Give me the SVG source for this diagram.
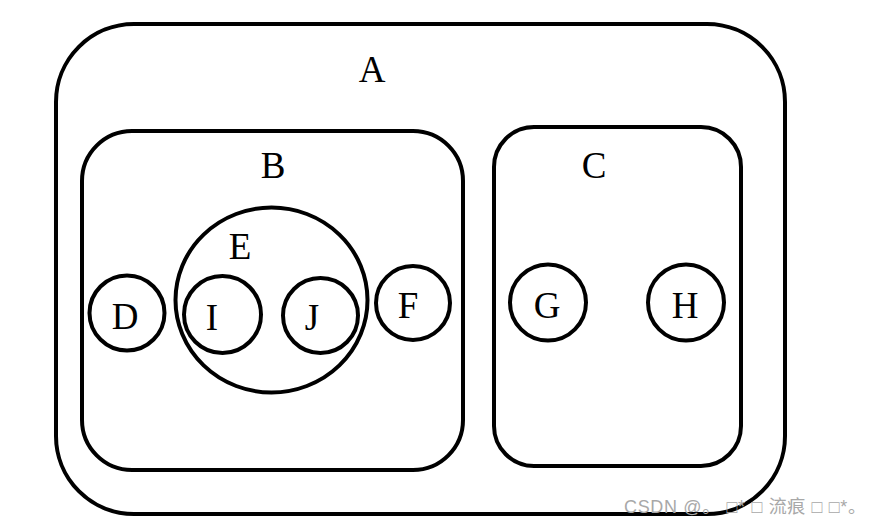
<svg xmlns="http://www.w3.org/2000/svg" width="874" height="526" viewBox="0 0 874 526">
<style>
.s{fill:none;stroke:#000;stroke-width:4}
.t{font-family:"Liberation Serif","DejaVu Serif",serif;font-size:37px;fill:#000;text-anchor:middle}
.w{font-family:"Liberation Sans","Noto Sans CJK SC",sans-serif;font-size:18px;fill:#a8a8a8}
</style>
<rect width="874" height="526" fill="#fff"/>
<g id="A"><rect class="s" x="56" y="24" width="729" height="490" rx="78" ry="78"/><text class="t" x="372" y="82">A</text></g>
<g id="B"><rect class="s" x="82" y="131" width="381" height="339" rx="50" ry="50"/><text class="t" x="273" y="178">B</text></g>
<g id="C"><rect class="s" x="494" y="127" width="247" height="339" rx="40" ry="40"/><text class="t" x="594" y="178">C</text></g>
<g id="E"><ellipse class="s" cx="271.5" cy="300" rx="96" ry="92.5"/><text class="t" x="240" y="259">E</text></g>
<g id="D"><circle class="s" cx="127" cy="313" r="37.5"/><text class="t" x="125" y="329">D</text></g>
<g id="I"><circle class="s" cx="222.5" cy="314.5" r="38.5"/><text class="t" x="212" y="330">I</text></g>
<g id="J"><circle class="s" cx="320.5" cy="315.5" r="37.5"/><text class="t" x="312" y="330">J</text></g>
<g id="F"><circle class="s" cx="413" cy="303" r="37"/><text class="t" x="408" y="318">F</text></g>
<g id="G"><circle class="s" cx="548" cy="302.5" r="38"/><text class="t" x="547" y="318">G</text></g>
<g id="H"><circle class="s" cx="686" cy="302.5" r="38"/><text class="t" x="685" y="318">H</text></g>
<g id="connectors"/>
<text class="w" x="624" y="513" textLength="242" lengthAdjust="spacing">CSDN @。 □* □ 流痕 □ □*。</text>
</svg>
